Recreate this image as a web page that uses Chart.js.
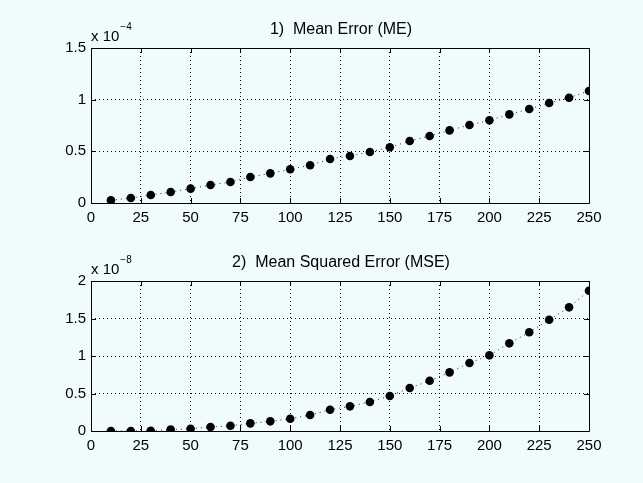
<!DOCTYPE html>
<html><head><meta charset="utf-8">
<script src="https://cdn.jsdelivr.net/npm/chart.js@4"></script>
<style>
html,body{margin:0;padding:0;background:#f0fcfc;}
#wrap{position:relative;width:643px;height:483px;overflow:hidden;}
canvas{position:absolute;left:0;}
</style></head><body>
<div id="wrap">
<canvas id="c1" style="top:0px"></canvas>
<canvas id="c2" style="top:241px"></canvas>
</div>
<script>
const xValues = [10,20,30,40,50,60,70,80,90,100,110,120,130,140,150,160,170,180,190,200,210,220,230,240,250];
// Mean Error, in units of 1e-4
const meValues = [0.026,0.048,0.077,0.106,0.139,0.174,0.203,0.252,0.287,0.326,0.365,0.426,0.455,0.494,0.539,0.600,0.648,0.703,0.755,0.800,0.858,0.910,0.968,1.019,1.084];
// Mean Squared Error, in units of 1e-8
const mseValues = [0.000,0.001,0.004,0.018,0.031,0.053,0.071,0.102,0.129,0.164,0.213,0.284,0.329,0.387,0.467,0.573,0.671,0.782,0.907,1.009,1.169,1.316,1.484,1.649,1.871];
const xTicks = [0,25,50,75,100,125,150,175,200,225,250];
const meTicks = [0,0.5,1,1.5];
const mseTicks = [0,0.5,1,1.5,2];
const titles = ['1)  Mean Error (ME)', '2)  Mean Squared Error (MSE)'];
const exponents = ['\u22124', '\u22128'];

const FONT = 'Helvetica, "Liberation Sans", Arial, sans-serif';

function makeChart(id, h, vals, yTicks, title, expo, top, bottom) {
  const canvas = document.getElementById(id);
  canvas.width = 643; canvas.height = h;
  canvas.style.width = '643px'; canvas.style.height = h + 'px';
  const frame = {
    id: 'frame' + id,
    afterDraw(chart) {
      const ctx = chart.ctx, a = chart.chartArea;
      const xs = chart.scales.x, ys = chart.scales.y;
      ctx.save();
      ctx.strokeStyle = '#000'; ctx.lineWidth = 1;
      ctx.beginPath();
      ctx.rect(Math.round(a.left) + 0.5, Math.round(a.top) + 0.5, Math.round(a.right - a.left), Math.round(a.bottom - a.top));
      ctx.stroke();
      ctx.beginPath();
      xTicks.forEach(v => {
        const px = Math.round(xs.getPixelForValue(v)) + 0.5;
        ctx.moveTo(px, a.bottom); ctx.lineTo(px, a.bottom - 5);
        ctx.moveTo(px, a.top); ctx.lineTo(px, a.top + 5);
      });
      yTicks.forEach(v => {
        const py = Math.round(ys.getPixelForValue(v)) + 0.5;
        ctx.moveTo(a.left, py); ctx.lineTo(a.left + 5, py);
        ctx.moveTo(a.right, py); ctx.lineTo(a.right - 5, py);
      });
      ctx.stroke();
      ctx.fillStyle = '#000';
      ctx.font = '16px ' + FONT;
      ctx.textAlign = 'center'; ctx.textBaseline = 'middle';
      ctx.fillText(title, (a.left + a.right) / 2 + 1, a.top - 18);
      ctx.font = '15px ' + FONT;
      ctx.textAlign = 'left'; ctx.textBaseline = 'alphabetic';
      ctx.fillText('x 10', a.left, a.top - 7);
      const w = ctx.measureText('x 10').width;
      ctx.font = '10px ' + FONT;
      ctx.fillText(expo, a.left + w + 1, a.top - 18);
      ctx.restore();
    }
  };
  return new Chart(canvas, {
    type: 'scatter',
    data: {
      datasets: [{
        data: xValues.map((x, i) => ({x: x, y: vals[i]})),
        showLine: true,
        borderColor: '#222',
        borderWidth: 1,
        borderDash: [1, 4],
        pointRadius: 4.3,
        pointHoverRadius: 4.3,
        pointBackgroundColor: '#000',
        pointBorderColor: '#000',
        pointBorderWidth: 0
      }]
    },
    options: {
      responsive: false,
      animation: false,
      events: [],
      layout: { padding: { left: 0, top: top, right: 54, bottom: 0 } },
      plugins: { legend: { display: false }, tooltip: { enabled: false }, title: { display: false } },
      scales: {
        x: {
          type: 'linear', min: 0, max: 250,
          afterFit(s) { s.height = bottom; },
          ticks: { stepSize: 25, color: '#000', font: { family: FONT, size: 15 }, padding: 6, maxRotation: 0, autoSkip: false,
                   callback: v => String(v) },
          grid: { color: '#000', lineWidth: 1, drawTicks: false },
          border: { display: false, dash: [1, 3] }
        },
        y: {
          type: 'linear', min: yTicks[0], max: yTicks[yTicks.length - 1],
          afterFit(s) { s.width = 91; },
          ticks: { stepSize: yTicks[1] - yTicks[0], color: '#000', font: { family: FONT, size: 15 }, padding: 5, autoSkip: false,
                   callback: v => String(Math.round(v * 10) / 10) },
          grid: { color: '#000', lineWidth: 1, drawTicks: false },
          border: { display: false, dash: [1, 3] }
        }
      }
    },
    plugins: [frame]
  });
}

makeChart('c1', 241, meValues, meTicks, titles[0], exponents[0], 48, 38);
makeChart('c2', 242, mseValues, mseTicks, titles[1], exponents[1], 40, 52);
</script>
</body></html>
